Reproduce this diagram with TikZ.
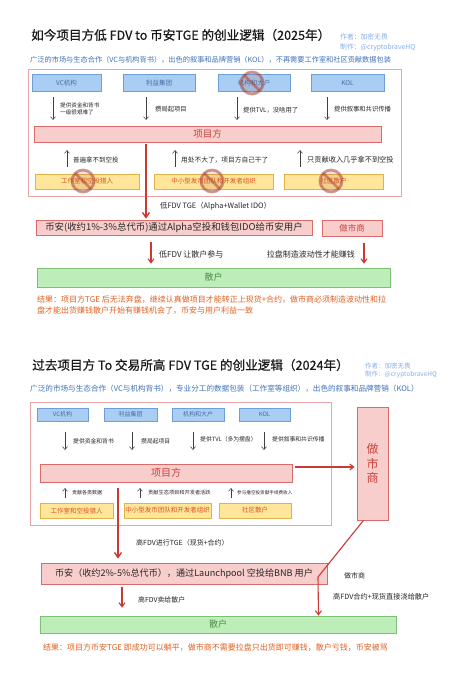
\documentclass[tikz,border=0pt]{standalone}
\usepackage{fontspec}
\setmainfont{Noto Sans CJK SC}
\newfontfamily\titlefam[FakeBold=0.6]{Noto Sans CJK SC}
\usetikzlibrary{arrows.meta,calc}
\definecolor{bluefill}{HTML}{A9CDF3}
\definecolor{blueline}{HTML}{6C9FD8}
\definecolor{bluetext}{HTML}{4A6FA5}
\definecolor{pinkfill}{HTML}{F8CECC}
\definecolor{pinkline}{HTML}{D96B6B}
\definecolor{redtext}{HTML}{C8403A}
\definecolor{yelfill}{HTML}{FFE69A}
\definecolor{yelline}{HTML}{E0B24A}
\definecolor{yeltext}{HTML}{D9531E}
\definecolor{grnfill}{HTML}{BDEDB8}
\definecolor{grnline}{HTML}{7CC072}
\definecolor{grntext}{HTML}{4C8C46}
\definecolor{outerline}{HTML}{E8A5A5}
\definecolor{subblue}{HTML}{3F72B8}
\definecolor{authblue}{HTML}{86AEE6}
\definecolor{restext}{HTML}{E0601F}
\definecolor{arrred}{HTML}{C93A35}
\definecolor{nocol}{HTML}{A8453A}
\newcommand\fs[1]{\fontsize{#1}{#1}\selectfont}
\newcommand\nosign[1]{%
  \draw[nocol,opacity=0.55,line width=2.8pt,fill=nocol,fill opacity=0.14] (#1) circle[radius=11pt];
  \draw[nocol,opacity=0.55,line width=2.8pt] ($(#1)+(-7.8,-7.8)$) -- ($(#1)+(7.8,7.8)$);}
\begin{document}
\begin{tikzpicture}[x=1pt,y=-1pt,
  bluebox/.style={draw=blueline,fill=bluefill,line width=0.7pt,inner sep=0pt,text=bluetext,font=\fs{6.5}},
  pinkbox/.style={draw=pinkline,fill=pinkfill,line width=0.7pt,inner sep=0pt,text=redtext},
  yelbox/.style={draw=yelline,fill=yelfill,line width=0.7pt,inner sep=0pt,text=yeltext,font=\fs{6.5}},
  grnbox/.style={draw=grnline,fill=grnfill,line width=0.8pt,inner sep=0pt,text=grntext,font=\fs{9}},
  outerbox/.style={draw=outerline,line width=0.8pt},
  thinarr/.style={draw=black!75,line width=0.5pt,-{Straight Barb[length=3pt,width=5pt]}},
  redarr/.style={draw=arrred,line width=1.1pt,-{Straight Barb[length=4pt,width=6pt]}},
  bigarr/.style={draw=arrred,line width=1.4pt,-{Straight Barb[length=5pt,width=7pt]}},
  lab/.style={anchor=west,inner sep=0pt,text=black!85},
  titlefont/.style={anchor=west,inner sep=0pt,font=\titlefam\fs{12.6},text=black!90},
  authfont/.style={anchor=west,inner sep=0pt,text=authblue,font=\fs{6.8}},
  subfont/.style={anchor=west,inner sep=0pt,text=subblue},
  resfont/.style={anchor=west,inner sep=0pt,text=restext,font=\fs{8}},
]
\useasboundingbox (0,0) rectangle (463,680);
\fill[white] (0,0) rectangle (463,680);

%%%%%%%%%%%%%%%% TOP SECTION (2025)
\node[titlefont] (t1) at (31,35) {如今项目方低 FDV to 币安TGE 的创业逻辑（2025年）};
\node[authfont] (au1a) at (340,37) {作者：加密无畏};
\node[authfont] (au1b) at (340,47) {制作：@cryptobraveHQ};
\node[subfont,font=\fs{7.2}] (s1) at (30,60) {广泛的市场与生态合作（VC与机构背书），出色的叙事和品牌营销（KOL），不再需要工作室和社区贡献数据包装};

\draw[outerbox] (28,69) rectangle (401,196);

\node[bluebox,minimum width=69pt,minimum height=17pt] (vc1) at (66.5,83) {VC机构};
\node[bluebox,minimum width=72pt,minimum height=17pt] (li1) at (159,83) {利益集团};
\node[bluebox,minimum width=72pt,minimum height=17pt] (jg1) at (254,83) {机构和大户};
\node[bluebox,minimum width=73pt,minimum height=17pt] (kol1) at (347.5,83) {KOL};
\coordinate (nj1) at (252,83);
\nosign{nj1}

\coordinate (d1a) at (53,97);  \coordinate (d1b) at (53,120);
\coordinate (d2a) at (146,97); \coordinate (d2b) at (146,120);
\coordinate (d3a) at (237,97); \coordinate (d3b) at (237,120);
\coordinate (d4a) at (327,97); \coordinate (d4b) at (327,120);
\draw[thinarr] (d1a) -- (d1b);
\draw[thinarr] (d2a) -- (d2b);
\draw[thinarr] (d3a) -- (d3b);
\draw[thinarr] (d4a) -- (d4b);
\node[lab,align=left,font=\fontsize{5.6}{6.6}\selectfont] (l1) at (60,109) {提供资金和背书\\一级很艰难了};
\node[lab,font=\fs{6.3}] (l2) at (155,109) {攒局起项目};
\node[lab,font=\fs{6.3}] (l3) at (243,110) {提供TVL，没啥用了};
\node[lab,font=\fs{6.3}] (l4) at (334,109) {提供叙事和共识传播};

\node[pinkbox,font=\fs{9.5},minimum width=347pt,minimum height=16pt] (xm1) at (207.5,134) {项目方};

\coordinate (u1a) at (67,167); \coordinate (u1b) at (67,150);
\coordinate (u2a) at (175,167); \coordinate (u2b) at (175,150);
\coordinate (u3a) at (300,167); \coordinate (u3b) at (300,150);
\draw[thinarr] (u1a) -- (u1b);
\draw[thinarr] (u2a) -- (u2b);
\draw[thinarr] (u3a) -- (u3b);
\node[lab,font=\fs{6.5}] (ul1) at (73,160) {普遍拿不到空投};
\node[lab,font=\fs{6.7}] (ul2) at (181,160) {用处不大了，项目方自己干了};
\node[lab,font=\fs{7.2}] (ul3) at (307,160) {只贡献收入几乎拿不到空投};

\node[yelbox,minimum width=104pt,minimum height=15pt] (y1a) at (87,181.5) {工作室和空投猎人};
\node[yelbox,minimum width=119pt,minimum height=15pt] (y1b) at (213.5,181.5) {中小型发币团队和开发者组织};
\node[yelbox,minimum width=99pt,minimum height=15pt] (y1c) at (333.5,181.5) {社区散户};
\coordinate (n1a) at (83,181); \nosign{n1a}
\coordinate (n1b) at (212,181); \nosign{n1b}
\coordinate (n1c) at (331,181); \nosign{n1c}

\node[pinkbox,font=\fs{9.4},text=black!85,minimum width=276pt,minimum height=15pt] (bn1) at (174,227.5) {币安(收约1\%-3\%总代币)通过Alpha空投和钱包IDO给币安用户};
\node[pinkbox,font=\fs{8.5},minimum width=60pt,minimum height=16pt] (mm1) at (352,228) {做市商};

\coordinate (ax1) at (146,0);
\draw[bigarr] ([yshift=-2pt]xm1.south -| ax1) -- ([yshift=1pt]bn1.north -| ax1);
\node[lab,font=\fs{7.4}] (bl1) at (160,206) {低FDV TGE（Alpha+Wallet IDO）};

\node[grnbox,minimum width=353pt,minimum height=19pt] (sh1) at (213.5,277.5) {散户};

\coordinate (ax2) at (151,0);
\coordinate (ax3) at (364,0);
\draw[redarr] ([yshift=-7pt]bn1.south -| ax2) -- ([yshift=4pt]sh1.north -| ax2);
\draw[redarr] ([yshift=-7pt]mm1.south -| ax3) -- ([yshift=4pt]sh1.north -| ax3);
\node[lab,font=\fs{8}] (al1) at (159,254) {低FDV 让散户参与};
\node[lab,anchor=east,font=\fs{8}] (al2) at (355,254) {拉盘制造波动性才能赚钱};

\node[resfont] (r1a) at (37,300) {结果：项目方TGE 后无法弃盘，继续认真做项目才能转正上现货+合约，做市商必须制造波动性和拉};
\node[resfont] (r1b) at (37,311) {盘才能出货赚钱散户开始有赚钱机会了，币安与用户利益一致};

%%%%%%%%%%%%%%%% BOTTOM SECTION (2024)
\node[titlefont] (t2) at (32,365) {过去项目方 To 交易所高 FDV TGE 的创业逻辑（2024年）};
\node[authfont,font=\fs{6.5}] (au2a) at (365,366) {作者：加密无畏};
\node[authfont,font=\fs{6.5}] (au2b) at (365,375) {制作：@cryptobraveHQ};
\node[subfont,font=\fs{7.6}] (s2) at (30,389) {广泛的市场与生态合作（VC与机构背书），专业分工的数据包装（工作室等组织），出色的叙事和品牌营销（KOL）};

\draw[outerbox] (30,402) rectangle (331,525);

\node[bluebox,font=\fs{6},minimum width=51pt,minimum height=13pt] (vc2) at (62.5,414.5) {VC机构};
\node[bluebox,font=\fs{6},minimum width=53pt,minimum height=13pt] (li2) at (130.5,414.5) {利益集团};
\node[bluebox,font=\fs{6},minimum width=52pt,minimum height=13pt] (jg2) at (198,414.5) {机构和大户};
\node[bluebox,font=\fs{6},minimum width=51pt,minimum height=13pt] (kol2) at (264.5,414.5) {KOL};

\coordinate (e1a) at (65,432);  \coordinate (e1b) at (65,450);
\coordinate (e2a) at (132,432); \coordinate (e2b) at (132,450);
\coordinate (e3a) at (193,432); \coordinate (e3b) at (193,450);
\coordinate (e4a) at (264,432); \coordinate (e4b) at (264,450);
\draw[thinarr] (e1a) -- (e1b);
\draw[thinarr] (e2a) -- (e2b);
\draw[thinarr] (e3a) -- (e3b);
\draw[thinarr] (e4a) -- (e4b);
\node[lab,font=\fs{5.8}] (m1) at (73,441) {提供资金和背书};
\node[lab,font=\fs{5.8}] (m2) at (141,441) {攒局起项目};
\node[lab,font=\fs{5.8}] (m3) at (200,439) {提供TVL（多为摆盘）};
\node[lab,font=\fs{5.8}] (m4) at (272,439) {提供叙事和共识传播};

\node[pinkbox,font=\fs{10},minimum width=252pt,minimum height=18pt] (xm2) at (166,473) {项目方};

\node[pinkbox,font=\fontsize{12}{14.5}\selectfont,align=center,minimum width=31pt,minimum height=113pt] (mm2) at (372.5,463.5) {做\\市\\商};
\draw[redarr] ([xshift=3pt,yshift=6pt]xm2.east) -- ([xshift=-2pt,yshift=6pt]xm2.east -| mm2.west);

\coordinate (v1a) at (65,498); \coordinate (v1b) at (65,488);
\coordinate (v2a) at (140,498); \coordinate (v2b) at (140,488);
\coordinate (v3a) at (231,498); \coordinate (v3b) at (231,488);
\draw[thinarr] (v1a) -- (v1b);
\draw[thinarr] (v2a) -- (v2b);
\draw[thinarr] (v3a) -- (v3b);
\node[lab,font=\fs{5}] (vl1) at (72,493) {贡献各类数据};
\node[lab,font=\fs{5.2}] (vl2) at (148,493) {贡献生态项目和开发者活跃};
\node[lab,font=\fs{4.6}] (vl3) at (237,493) {参与撸空投贡献手续费收入};

\node[yelbox,minimum width=73pt,minimum height=15pt] (y2a) at (76.5,510.5) {工作室和空投猎人};
\node[yelbox,minimum width=87pt,minimum height=15pt] (y2b) at (167.5,510.5) {中小型发币团队和开发者组织};
\node[yelbox,minimum width=72pt,minimum height=15pt] (y2c) at (255,510.5) {社区散户};

\node[pinkbox,font=\fs{9.1},text=black!85,minimum width=286pt,minimum height=21pt] (bn2) at (184,573.5) {币安（收约2\%-5\%总代币），通过Launchpool 空投给BNB 用户};

\coordinate (ax4) at (118,0);
\draw[bigarr] ([yshift=-6pt]xm2.south -| ax4) -- ([yshift=4pt]bn2.north -| ax4);
\node[lab,font=\fs{7}] (bl2) at (136,543) {高FDV进行TGE（现货+合约）};

\node[grnbox,minimum width=356pt,minimum height=17pt] (sh2) at (218,624.5) {散户};

\coordinate (ax5) at (122,0);
\draw[redarr] ([yshift=-3pt]bn2.south -| ax5) -- ([yshift=8pt]sh2.north -| ax5);
\node[lab,font=\fs{6.9}] (cl1) at (138,600) {高FDV卖给散户};

\coordinate (bend2) at (318,577);
\coordinate (ax6) at (318.5,0);
\draw[redarr] ([xshift=-9pt]mm2.south) -- (bend2) -- (sh2.north -| ax6);
\node[lab,font=\fs{7}] (cl2) at (344,576) {做市商};
\node[lab,font=\fs{7.2}] (cl3) at (333,597) {高FDV合约+现货直接浇给散户};

\node[resfont] (r2) at (43,648) {结果：项目方币安TGE 即成功可以躺平，做市商不需要拉盘只出货即可赚钱，散户亏钱，币安被骂};
\end{tikzpicture}
\end{document}
